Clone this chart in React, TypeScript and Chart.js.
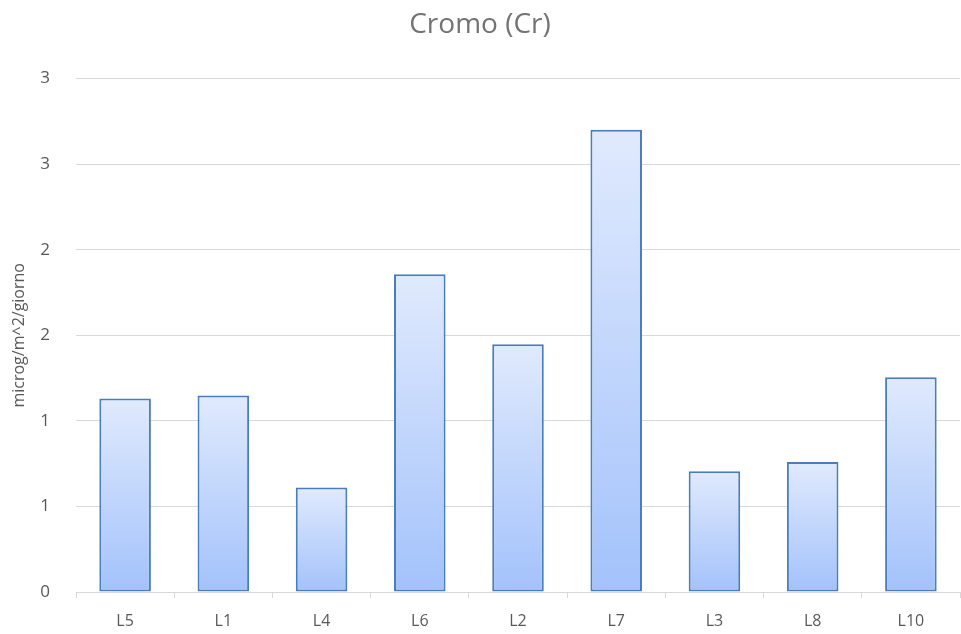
import React, { useEffect, useRef } from "react";
import { Chart, registerables } from "chart.js";

Chart.register(...registerables);

const categories = ["L5", "L1", "L4", "L6", "L2", "L7", "L3", "L8", "L10"];
const values = [1.13, 1.148, 0.61, 1.857, 1.447, 2.701, 0.706, 0.76, 1.255];
const yTicks = [0, 0.5, 1, 1.5, 2, 2.5, 3];
const title = "Cromo (Cr)";
const yTitle = "microg/m^2/giorno";

const TEXT = "#595959";
const TITLE = "#737373";
const GRID = "#d9d9d9";
const FONT = "'Open Sans', 'Noto Sans', sans-serif";

export default function App() {
  const ref = useRef<HTMLCanvasElement | null>(null);
  useEffect(() => {
    document.body.style.margin = "0";
    const canvas = ref.current!;
    const chart = new Chart(canvas, {
      type: "bar",
      data: {
        labels: categories,
        datasets: [
          {
            data: values,
            backgroundColor: (c: any) => {
              const chart = c.chart;
              const y = chart.scales?.y;
              if (!y || !chart.chartArea || c.raw == null) return "#c4d7fc";
              const top = y.getPixelForValue(c.raw);
              const bottom = y.getPixelForValue(0);
              const g = chart.ctx.createLinearGradient(0, top, 0, bottom);
              g.addColorStop(0, "#e0eafd");
              g.addColorStop(1, "#a3c2fb");
              return g;
            },
            borderColor: "#4a7ebb",
            borderWidth: 2,
            borderSkipped: false,
            barPercentage: 0.525,
            categoryPercentage: 1,
          },
        ],
      },
      options: {
        responsive: false,
        animation: false,
        layout: { padding: { left: 0, right: 1, top: 0, bottom: 0 } },
        plugins: {
          legend: { display: false },
          tooltip: { enabled: false },
          title: {
            display: true,
            text: title,
            color: TITLE,
            font: { family: FONT, size: 28, weight: "normal" },
            padding: { top: 8, bottom: 37 },
          },
        },
        scales: {
          x: {
            grid: {
              display: true,
              drawOnChartArea: false,
              drawTicks: true,
              tickLength: 6,
              color: GRID,
              offset: true,
            },
            border: { display: true, color: GRID, width: 1 },
            ticks: { color: TEXT, font: { family: FONT, size: 16 }, padding: 14 },
            afterFit: (s: any) => {
              s.height = 42;
            },
          },
          y: {
            min: 0,
            max: 3,
            afterBuildTicks: (s: any) => {
              s.ticks = yTicks.map((v) => ({ value: v }));
            },
            ticks: {
              color: TEXT,
              font: { family: FONT, size: 17 },
              padding: 26,
              callback: (v: any) => String(Math.round(Number(v))),
            },
            grid: { color: GRID, drawTicks: false, lineWidth: 1 },
            border: { display: false },
            title: {
              display: true,
              text: yTitle,
              color: TEXT,
              font: { family: FONT, size: 16 },
              padding: { top: 10, bottom: 8 },
            },
            afterFit: (s: any) => {
              s.width = 76;
            },
          },
        },
      },
    });
    return () => chart.destroy();
  }, []);
  return (
    <div style={{ position: "absolute", left: 0, top: 0, width: 961, height: 634, background: "#fff" }}>
      <canvas ref={ref} width={961} height={634} style={{ display: "block" }} />
    </div>
  );
}
